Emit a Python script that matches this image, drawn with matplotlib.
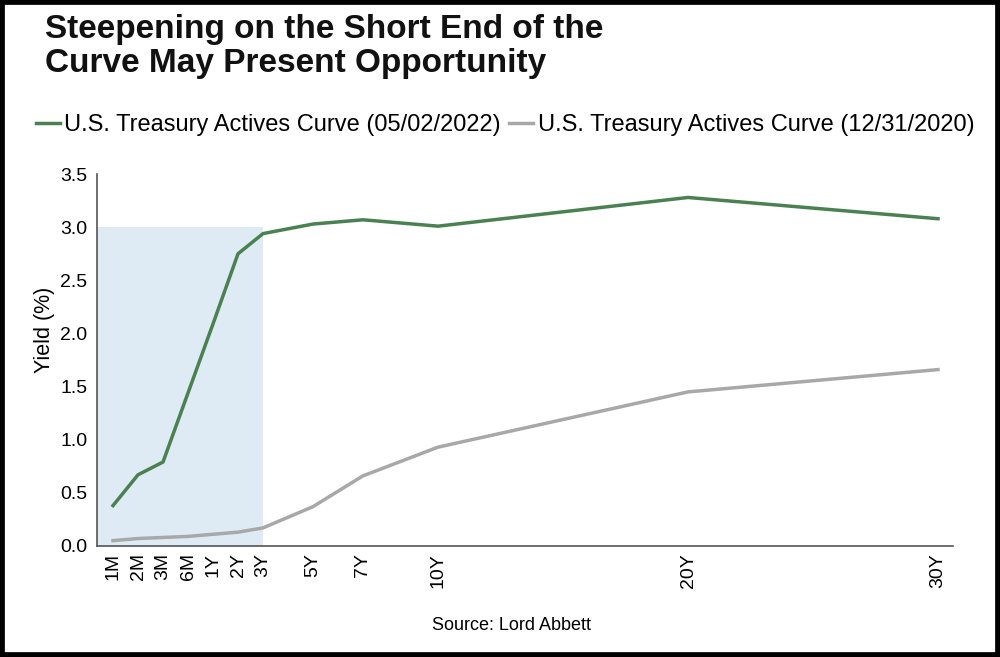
import matplotlib
matplotlib.use("Agg")
import matplotlib.pyplot as plt
from matplotlib.patches import Rectangle

plt.rcParams['font.family'] = ['Liberation Sans', 'DejaVu Sans']

# tenors and where they sit on the x axis (short end evenly spaced, long end in years)
tenors = ["1M", "2M", "3M", "6M", "1Y", "2Y", "3Y", "5Y", "7Y", "10Y", "20Y", "30Y"]
tenor_x = [-3, -2, -1, 0, 1, 2, 3, 5, 7, 10, 20, 30]

curve_2022 = [0.38, 0.67, 0.79, 1.44, 2.09, 2.75, 2.94, 3.03, 3.07, 3.01, 3.28, 3.08]
curve_2020 = [0.05, 0.07, 0.08, 0.09, 0.11, 0.13, 0.17, 0.37, 0.66, 0.93, 1.45, 1.66]

label_2022 = "U.S. Treasury Actives Curve (05/02/2022)"
label_2020 = "U.S. Treasury Actives Curve (12/31/2020)"

fig = plt.figure(figsize=(10, 6.57), dpi=100)
ax = fig.add_axes([0.097, 0.169, 0.856, 0.566])

# shaded short end
ax.add_patch(Rectangle((-3.64, 0), 3 + 3.64, 3.0, facecolor="#deebf4",
                       edgecolor="none", zorder=0))

ax.plot(tenor_x, curve_2022, color="#4a8150", lw=2.5, label=label_2022)
ax.plot(tenor_x, curve_2020, color="#a8a8a8", lw=2.5, label=label_2020)

ax.set_xlim(-3.64, 30.6)
ax.set_ylim(0, 3.5)
ax.set_xticks(tenor_x)
ax.set_xticklabels(tenors, rotation=90, fontsize=14)
ax.set_yticks([0, 0.5, 1.0, 1.5, 2.0, 2.5, 3.0, 3.5])
ax.set_yticklabels(["0.0", "0.5", "1.0", "1.5", "2.0", "2.5", "3.0", "3.5"], fontsize=14)
ax.tick_params(axis="y", length=0, pad=7)
ax.tick_params(axis="x", length=0, pad=5)
ax.set_ylabel("Yield (%)", fontsize=15.5)
ax.yaxis.set_label_coords(-0.049, 0.58)

for s in ["top", "right"]:
    ax.spines[s].set_visible(False)
for s in ["left", "bottom"]:
    ax.spines[s].set_color("#555555")
    ax.spines[s].set_linewidth(1.2)

fig.text(0.045, 0.929, "Steepening on the Short End of the\nCurve May Present Opportunity",
         fontsize=24, fontweight="bold", va="center", ha="left", linespacing=1.12,
         color="#111111")

fig.legend(loc="center left", bbox_to_anchor=(0.036, 0.81), ncol=2, frameon=False,
           fontsize=17, handlelength=1.0, handletextpad=0.2, columnspacing=0.35,
           borderpad=0, borderaxespad=0)

fig.text(0.512, 0.048, "Source: Lord Abbett", fontsize=13, ha="center", va="center")

# black frame around the picture
fig.patches.append(Rectangle((0, 0), 1, 1, transform=fig.transFigure, fill=False,
                             edgecolor="black", linewidth=7))

fig.savefig("out.png", dpi=100)
